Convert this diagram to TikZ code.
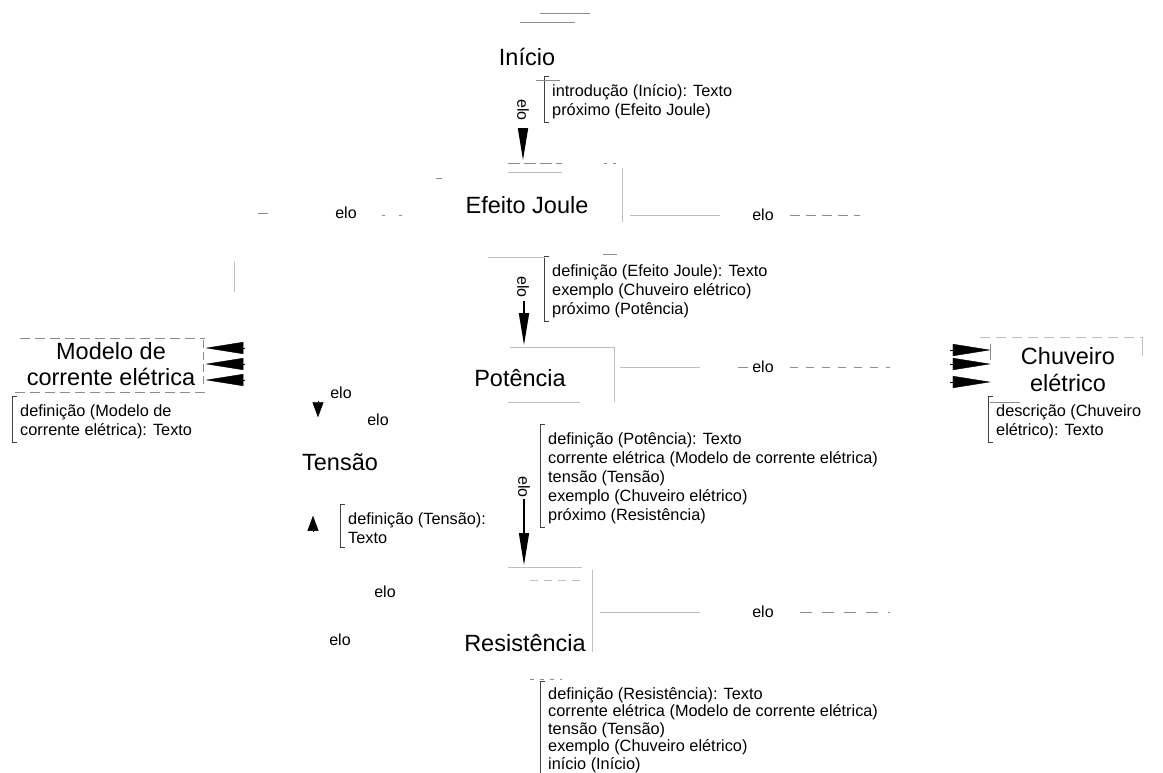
\documentclass[tikz,border=0pt]{standalone}
\usepackage{fontspec}
\setmainfont{Liberation Sans}
\usetikzlibrary{arrows.meta}

\begin{document}
\begin{tikzpicture}[x=1pt,y=-1pt,
  concept/.style={font=\fontsize{23.5}{25}\selectfont, inner sep=0pt, align=center},
  attr/.style={font=\fontsize{16.3}{19}\selectfont, inner sep=0pt, align=left, anchor=north west},
  elolabel/.style={font=\fontsize{16}{18}\selectfont, inner sep=0pt},
  bracket/.style={draw=black!75, line width=0.8pt},
  trace/.style={draw=black!45, line width=0.8pt},
  faint/.style={draw=black!25, line width=0.6pt},
  link/.style={draw=black, line width=1.6pt, -{Triangle[length=32pt,width=10pt]}},
  headdown/.style={draw=black, line width=0.4pt, -{Triangle[length=15pt,width=11pt]}},
  wedge/.style={draw=black, line width=0.4pt, -{Triangle[length=38pt,width=12pt]}}]
\useasboundingbox (0,0) rectangle (1163,772);

% concepts
\node[concept] (inicio) at (527,57) {Início};
\node[concept] (joule)  at (527,205) {Efeito Joule};
\node[concept] (pot)    at (520,378) {Potência};
\node[concept] (tensao) at (340,462) {Tensão};
\node[concept] (resist) at (525,643) {Resistência};
\node[concept, align=center, font=\fontsize{23.5}{26}\selectfont] (modelo) at (111,364) {Modelo de\\corrente elétrica};
\node[concept, align=center, font=\fontsize{23.5}{27}\selectfont] (chuv) at (1068,370) {Chuveiro\\elétrico};

% attribute lists
\node[attr] (a1) at (552,84) {introdução (Início): Texto\\próximo (Efeito Joule)};
\node[attr] (a2) at (552,264) {definição (Efeito Joule): Texto\\exemplo (Chuveiro elétrico)\\próximo (Potência)};
\node[attr] (a3) at (548,432) {definição (Potência): Texto\\corrente elétrica (Modelo de corrente elétrica)\\tensão (Tensão)\\exemplo (Chuveiro elétrico)\\próximo (Resistência)};
\node[attr, font=\fontsize{16.3}{17.5}\selectfont] (a4) at (548,687) {definição (Resistência): Texto\\corrente elétrica (Modelo de corrente elétrica)\\tensão (Tensão)\\exemplo (Chuveiro elétrico)\\início (Início)};
\node[attr] (a5) at (348,512) {definição (Tensão):\\Texto};
\node[attr] (a6) at (20,404) {definição (Modelo de\\corrente elétrica): Texto};
\node[attr] (a7) at (996,404) {descrição (Chuveiro\\elétrico): Texto};

\foreach \a in {a1,a2,a3,a5,a6,a7}{
  \draw[bracket] ([shift={(-3,-8)}]\a.north west) -- ++(-5,0) |- ([shift={(-3,4)}]\a.south west);
}
\draw[bracket] ([shift={(-3,-6)}]a4.north west) -- ++(-5,0) |- ([shift={(-3,8)}]a4.south west);

% vertical links
\node[elolabel, rotate=-90] (e1) at (523,110) {elo};
\node[elolabel, rotate=-90] (e2) at (523,287) {elo};
\node[elolabel, rotate=-90] (e3) at (524,487) {elo};
\draw[link, shorten <=63pt, shorten >=36pt] ([xshift=-4pt]inicio.south) -- ([xshift=-4pt]inicio.south |- joule.north);
\draw[link, shorten <=87pt, shorten >=24pt] ([xshift=-3pt]joule.south) -- ([xshift=-3pt]joule.south |- pot.north);
\draw[link, line width=1.2pt, shorten <=112pt, shorten >=69pt] ([xshift=4pt]pot.south) -- ([xshift=4pt]pot.south |- resist.north);

% side labels
\node[elolabel] (l1) at (346,213) {elo};
\node[elolabel] (r1) at (763,215) {elo};
\node[elolabel] (l2) at (341,393) {elo};
\node[elolabel] (l3) at (378,420) {elo};
\node[elolabel] (r2) at (763,367) {elo};
\node[elolabel] (l4) at (385,592) {elo};
\node[elolabel] (l5) at (340,640) {elo};
\node[elolabel] (r3) at (763,612) {elo};

% heads into Tensão
\coordinate (tdn) at (318,401);
\draw[headdown, shorten >=36pt] (tdn) -- (tdn |- tensao.north);
\coordinate (tup) at (313,531);
\draw[headdown, shorten >=45pt] (tup) -- (tup |- tensao.south);

% heads into Modelo de corrente elétrica
\foreach \y [count=\i] in {348,364,380}{
  \coordinate (mw\i) at (245,\y);
  \draw[wedge, shorten >=10pt] (mw\i) -- (mw\i -| modelo.east);
}
% heads into Chuveiro elétrico
\foreach \y [count=\i] in {350,364,382}{
  \coordinate (cw\i) at (950,\y);
  \draw[wedge, shorten >=30pt] (cw\i) -- (cw\i -| chuv.west);
}

% remaining faint traces of boxes and lines
\draw[trace] (540,13) -- (590,13);
\draw[trace] (520,22) -- (575,22);
\draw[trace] (536,80) -- (560,80);
\draw[trace, dash pattern=on 12pt off 4pt] (508,163) -- (562,163);
\draw[faint] (508,172) -- (562,172);
\draw[trace, dash pattern=on 3pt off 6pt] (604,163) -- (616,163);
\draw[faint] (622,168) -- (622,222);
\draw[faint] (630,215) -- (720,215);
\draw[trace, dash pattern=on 10pt off 6pt] (790,215) -- (860,215);
\draw[trace] (258,213) -- (268,213);
\draw[trace, dash pattern=on 3pt off 14pt] (382,215) -- (402,215);
\draw[trace] (436,178) -- (442,178);
\draw[faint] (234,262) -- (234,292);
\draw[faint] (488,257) -- (545,257);
\draw[trace] (603,254) -- (617,254);
\draw[faint] (510,347) -- (614,347);
\draw[faint] (614,347) -- (614,402);
\draw[faint] (508,402) -- (580,402);
\draw[faint] (620,367) -- (700,367);
\draw[trace] (738,367) -- (748,367);
\draw[trace, dash pattern=on 8pt off 8pt] (790,367) -- (890,367);
\draw[trace, dash pattern=on 10pt off 5pt] (20,338) -- (205,338);
\draw[trace, dash pattern=on 8pt off 4pt] (203,340) -- (203,388);
\draw[trace, dash pattern=on 10pt off 5pt] (15,392) -- (205,392);
\draw[faint, dash pattern=on 10pt off 6pt] (980,337) -- (1142,337);
\draw[faint] (1142,337) -- (1142,356);
\draw[trace] (990,344) -- (990,360);
\draw[trace] (990,402) -- (1020,402);
\draw[faint] (508,567) -- (582,567);
\draw[faint, dash pattern=on 8pt off 6pt] (530,580) -- (582,580);
\draw[faint] (592,570) -- (592,652);
\draw[faint] (600,612) -- (700,612);
\draw[trace, dash pattern=on 12pt off 10pt] (800,612) -- (890,612);
\draw[trace, dash pattern=on 4pt off 6pt] (530,679) -- (562,679);
\end{tikzpicture}
\end{document}
